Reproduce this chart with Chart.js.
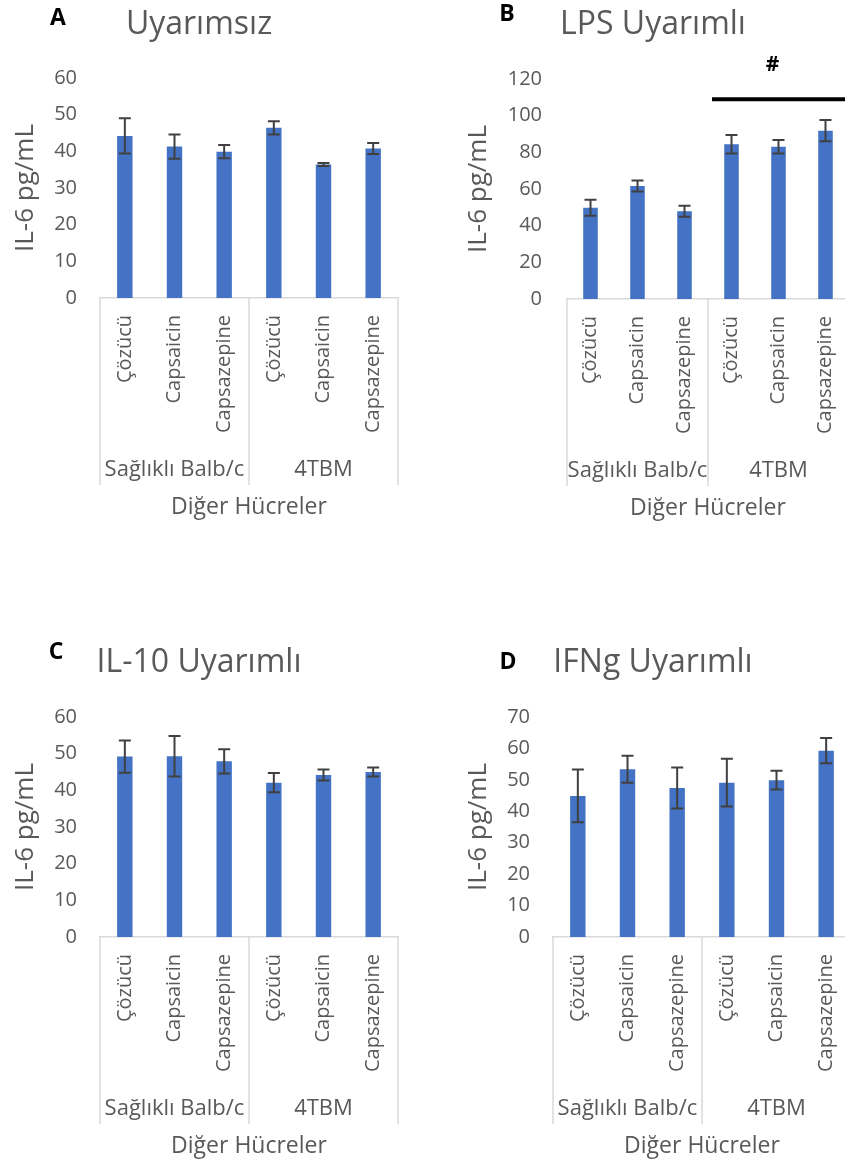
<!DOCTYPE html>
<html><head><meta charset="utf-8">
<script src="https://cdn.jsdelivr.net/npm/chart.js@4.4.0/dist/chart.umd.min.js"></script>
<style>
html,body{margin:0;padding:0;background:#fff;overflow:hidden;width:845px;height:1164px;position:relative;}
canvas{position:absolute;}
</style></head><body>
<canvas id="cA" width="420" height="560" style="left:0;top:0"></canvas>
<canvas id="cB" width="450" height="560" style="left:420px;top:0"></canvas>
<canvas id="cC" width="420" height="544" style="left:0;top:620px"></canvas>
<canvas id="cD" width="450" height="544" style="left:420px;top:620px"></canvas>
<script>
// ---- data ----
const categories = ['Çözücü', 'Capsaicin', 'Capsazepine', 'Çözücü', 'Capsaicin', 'Capsazepine'];
const groupLabels = ['Sağlıklı Balb/c', '4TBM'];
const groupSizes = [3, 3];
const xAxisTitle = 'Diğer Hücreler';
const yAxisTitle = 'IL-6 pg/mL';

const titleA = 'Uyarımsız';
const valuesA = [44.2, 41.3, 39.9, 46.4, 36.4, 40.8];
const errorsA = [4.8, 3.3, 1.8, 1.8, 0.4, 1.5];
const ticksA = [0, 10, 20, 30, 40, 50, 60];

const titleB = 'LPS Uyarımlı';
const valuesB = [49.8, 61.6, 47.8, 84.4, 83.0, 91.8];
const errorsB = [4.4, 3.0, 3.0, 5.1, 3.7, 5.8];
const ticksB = [0, 20, 40, 60, 80, 100, 120];
const sigLabelB = '#';
const sigValueB = 109;

const titleC = 'IL-10 Uyarımlı';
const valuesC = [49.2, 49.3, 47.9, 42.1, 44.2, 45.0];
const errorsC = [4.4, 5.5, 3.3, 2.6, 1.5, 1.2];
const ticksC = [0, 10, 20, 30, 40, 50, 60];

const titleD = 'IFNg Uyarımlı';
const valuesD = [44.9, 53.4, 47.4, 49.1, 49.9, 59.3];
const errorsD = [8.4, 4.3, 6.5, 7.6, 3.0, 4.0];
const ticksD = [0, 10, 20, 30, 40, 50, 60, 70];

const FONT = "'Open Sans'";
const GREY = '#595959';

const extrasPlugin = {
  id: 'extras',
  afterDatasetsDraw(chart, args, o) {
    const ctx = chart.ctx, meta = chart.getDatasetMeta(0), ys = chart.scales.y;
    const vals = chart.data.datasets[0].data;
    ctx.save();
    ctx.strokeStyle = '#404040'; ctx.lineWidth = 2;
    meta.data.forEach((bar, i) => {
      const x = bar.x;
      const yt = ys.getPixelForValue(vals[i] + o.errors[i]);
      const yb = ys.getPixelForValue(vals[i] - o.errors[i]);
      ctx.beginPath();
      ctx.moveTo(x, yt); ctx.lineTo(x, yb);
      ctx.moveTo(x - 6, yt); ctx.lineTo(x + 6, yt);
      ctx.moveTo(x - 6, yb); ctx.lineTo(x + 6, yb);
      ctx.stroke();
    });
    ctx.restore();
  },
  afterDraw(chart, args, o) {
    const ctx = chart.ctx, xs = chart.scales.x, ys = chart.scales.y;
    ctx.save();
    // letter
    ctx.fillStyle = '#000'; ctx.font = 'bold 23px ' + FONT;
    ctx.textAlign = 'center'; ctx.textBaseline = 'middle';
    ctx.fillText(o.letter, o.letterX, o.letterY);
    // title
    ctx.fillStyle = GREY; ctx.font = '32px ' + FONT;
    ctx.textBaseline = 'alphabetic';
    ctx.fillText(o.title, o.titleX, o.titleY);
    // category box lines
    const axisY = xs.top;
    const bounds = [xs.left];
    let idx = 0;
    groupSizes.forEach((n, g) => {
      idx += n;
      if (idx < categories.length) bounds.push((xs.getPixelForTick(idx - 1) + xs.getPixelForTick(idx)) / 2);
    });
    bounds.push(xs.right);
    ctx.strokeStyle = '#d9d9d9'; ctx.lineWidth = 1.5;
    bounds.forEach(bx => {
      ctx.beginPath(); ctx.moveTo(bx, axisY); ctx.lineTo(bx, axisY + 187); ctx.stroke();
    });
    // group labels
    ctx.fillStyle = GREY; ctx.font = '22px ' + FONT; ctx.textBaseline = 'middle';
    groupLabels.forEach((lab, g) => {
      const l = bounds[g], r = bounds[g + 1];
      ctx.save();
      ctx.beginPath(); ctx.rect(l + 1, axisY, r - l - 2, 200); ctx.clip();
      ctx.fillText(lab, (l + r) / 2, axisY + 172);
      ctx.restore();
    });
    // x axis title
    ctx.font = '23px ' + FONT;
    ctx.fillText(xAxisTitle, (xs.left + xs.right) / 2, axisY + 209);
    // significance annotation
    if (o.sig) {
      const yy = ys.getPixelForValue(o.sig.value);
      ctx.strokeStyle = '#000'; ctx.lineWidth = 4;
      ctx.beginPath(); ctx.moveTo(bounds[1] + 4, yy); ctx.lineTo(xs.right + 20, yy); ctx.stroke();
      ctx.fillStyle = '#000'; ctx.font = 'bold 21px ' + FONT;
      ctx.fillText(o.sig.label, xs.getPixelForTick(4) - 6, yy - 34);
    }
    ctx.restore();
  }
};

function makeChart(id, vals, errs, ticks, geo, ex) {
  const tmin = ticks[0], tmax = ticks[ticks.length - 1], step = ticks[1] - ticks[0];
  return new Chart(document.getElementById(id), {
    type: 'bar',
    data: { labels: categories, datasets: [{ data: vals, backgroundColor: '#4472C4', borderWidth: 0,
      categoryPercentage: 1, barPercentage: 0.31 }] },
    plugins: [extrasPlugin],
    options: {
      responsive: false, animation: false, events: [],
      layout: { padding: { left: 0, top: geo.top, right: geo.right, bottom: geo.bottom } },
      plugins: { legend: { display: false }, tooltip: { enabled: false }, extras: ex },
      scales: {
        x: {
          grid: { display: false, drawTicks: false },
          border: { display: true, color: '#d9d9d9', width: 1.5 },
          ticks: { color: GREY, font: { family: FONT, size: 20 }, minRotation: 90, maxRotation: 90, autoSkip: false, padding: 17 },
          afterFit: s => { s.height = geo.xh; }
        },
        y: {
          min: tmin, max: tmax,
          grid: { display: false, drawTicks: false },
          border: { display: false },
          ticks: { stepSize: step, color: GREY, font: { family: FONT, size: 20 }, padding: geo.tp },
          title: { display: true, text: yAxisTitle, color: GREY, font: { family: FONT, size: 26 }, padding: { top: geo.yt, bottom: 0 } },
          afterFit: s => { s.width = geo.yw; }
        }
      }
    }
  });
}

makeChart('cA', valuesA, errorsA, ticksA,
  { top: 78, right: 22, bottom: 40, xh: 222, yw: 100, tp: 23, yt: 10 },
  { errors: errorsA, letter: 'A', letterX: 58, letterY: 18, title: titleA, titleX: 199, titleY: 34 });
makeChart('cB', valuesB, errorsB, ticksB,
  { top: 79, right: 21, bottom: 40, xh: 221, yw: 147, tp: 25, yt: 43 },
  { errors: errorsB, letter: 'B', letterX: 87, letterY: 14, title: titleB, titleX: 233, titleY: 34,
    sig: { value: sigValueB, label: sigLabelB } });
makeChart('cC', valuesC, errorsC, ticksC,
  { top: 97, right: 22, bottom: 27, xh: 200, yw: 100, tp: 23, yt: 10 },
  { errors: errorsC, letter: 'C', letterX: 56, letterY: 32, title: titleC, titleX: 199, titleY: 52 });
makeChart('cD', valuesD, errorsD, ticksD,
  { top: 97, right: 19, bottom: 27, xh: 200, yw: 133, tp: 23, yt: 43 },
  { errors: errorsD, letter: 'D', letterX: 88, letterY: 42, title: titleD, titleX: 233, titleY: 52 });
</script>
</body></html>
